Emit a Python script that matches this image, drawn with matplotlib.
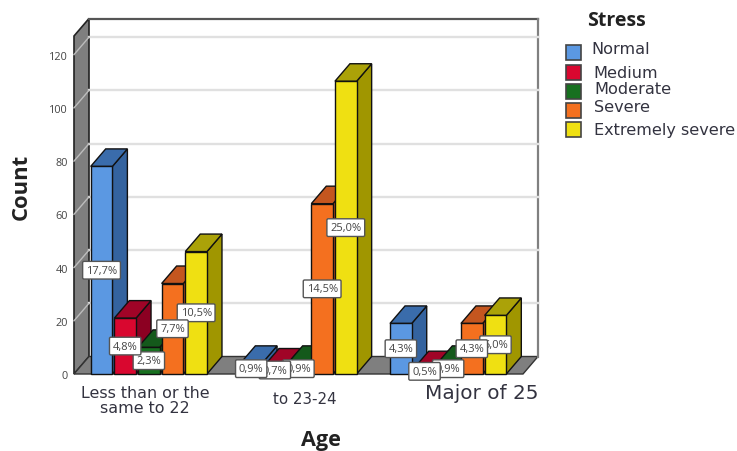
import matplotlib
matplotlib.use("Agg")
import matplotlib.pyplot as plt
from matplotlib.patches import Polygon, Rectangle

# Counts by age group and stress level
age_groups = ["Less than or the\nsame to 22", "to 23-24", "Major of 25"]
stress_levels = ["Normal", "Medium", "Moderate", "Severe", "Extremely severe"]
normal = [78, 4, 19]
medium = [21, 3, 2]
moderate = [10, 4, 4]
severe = [34, 64, 19]
extreme = [46, 110, 22]
series = [normal, medium, moderate, severe, extreme]

pct_normal = ["17,7%", "0,9%", "4,3%"]
pct_medium = ["4,8%", "0,7%", "0,5%"]
pct_moderate = ["2,3%", "0,9%", "0,9%"]
pct_severe = ["7,7%", "14,5%", "4,3%"]
pct_extreme = ["10,5%", "25,0%", "5,0%"]
percents = [pct_normal, pct_medium, pct_moderate, pct_severe, pct_extreme]

yticks = [0, 20, 40, 60, 80, 100, 120]

front = ["#5b98e2", "#d9072f", "#17701f", "#f4701f", "#efe012"]
side = ["#34639f", "#8c0022", "#0f4f16", "#b8501c", "#a09600"]
top = ["#3a6cab", "#a00427", "#14591b", "#c4561f", "#aba208"]

W, H = 737, 452
fig = plt.figure(figsize=(W / 100, H / 100), dpi=100, facecolor="white")
ax = fig.add_axes([74 / W, (H - 375) / H, 449 / W, 338 / H])
ax.set_xlim(-0.5, 2.5)
ax.set_ylim(0, 127)
ax.patch.set_visible(False)
for s in ax.spines.values():
    s.set_visible(False)

# Depth of the 3-D box expressed in data units
DX = 15 * 3 / 449
DY = 17.5 * 127 / 338
x0, x1 = -0.5, 2.5
ymax = 127

# Walls and floor
ax.add_patch(Polygon([(x0, 0), (x0 + DX, DY), (x0 + DX, ymax + DY), (x0, ymax)],
                     fc="#7f7f7f", ec="#222222", lw=1.2, clip_on=False, zorder=1))
ax.add_patch(Polygon([(x0, 0), (x1, 0), (x1 + DX, DY), (x0 + DX, DY)],
                     fc="#7f7f7f", ec="#333333", lw=1.0, clip_on=False, zorder=1))
ax.plot([x0 + DX, x1 + DX], [ymax + DY] * 2, color="#555555", lw=1.6, clip_on=False, zorder=1)
ax.plot([x1 + DX, x1 + DX], [DY, ymax + DY], color="#808080", lw=1.6, clip_on=False, zorder=1)

# Gridlines along the back wall and across the side wall
for t in yticks[1:]:
    ax.plot([x0 + DX, x1 + DX], [t + DY, t + DY], color="#e0e0e0", lw=1.7, clip_on=False, zorder=1.5)
    ax.plot([x0, x0 + DX], [t, t + DY], color="#bdbdbd", lw=1.0, clip_on=False, zorder=1.5)

# Bars
step = 0.158
width = 0.145
z = 2
for g in range(len(age_groups)):
    for i, vals in enumerate(series):
        v = vals[g]
        xl = g + (i - 2) * step - width / 2
        xr = xl + width
        ax.add_patch(Polygon([(xr, 0), (xr + DX, DY), (xr + DX, v + DY), (xr, v)],
                             fc=side[i], ec="#111111", lw=1.0, zorder=z, clip_on=False))
        ax.add_patch(Polygon([(xl, v), (xr, v), (xr + DX, v + DY), (xl + DX, v + DY)],
                             fc=top[i], ec="#111111", lw=1.0, zorder=z, clip_on=False))
        ax.add_patch(Rectangle((xl, 0), width, v, fc=front[i], ec="#111111", lw=1.0,
                               zorder=z + 0.1, clip_on=False))
        z += 0.2

# Value labels: earlier bars sit on top of later ones
for g in range(len(age_groups)):
    for i, vals in enumerate(series):
        xc = g + (i - 2) * step
        ax.text(xc, vals[g] / 2, percents[i][g], ha="center", va="center",
                fontsize=8.0, color="#444444", family="Open Sans", clip_on=False,
                zorder=30 - g - i * 0.1,
                bbox=dict(boxstyle="round,pad=0.3,rounding_size=0.12", fc="white",
                          ec="#555555", lw=1.0))

# Value axis
ax.set_yticks(yticks)
ax.set_yticklabels([str(t) for t in yticks], fontsize=7.8, color="#444444", family="Open Sans")
ax.tick_params(axis="y", length=0, pad=4.5)
ax.set_xticks([])


def px_text(x, y, s, **kw):
    fig.text(x / W, 1 - y / H, s, ha=kw.pop("ha", "center"), va="center", **kw)


# Category labels
px_text(145, 401, age_groups[0], fontsize=11.4, color="#333340", family="DejaVu Sans",
        linespacing=0.98)
px_text(305, 400, age_groups[1], fontsize=10.8, color="#333340", family="DejaVu Sans")
px_text(482, 394, age_groups[2], fontsize=14.4, color="#333340", family="DejaVu Sans")

# Axis titles
px_text(21, 187, "Count", fontsize=15.8, fontweight="bold", color="#222222",
        family="Open Sans", rotation=90)
px_text(321, 441, "Age", fontsize=15.6, fontweight="bold", color="#222222", family="Open Sans")

# Legend
px_text(587, 21, "Stress", ha="left", fontsize=14, fontweight="bold", color="#222222",
        family="Open Sans")
swatch_y = [53, 73, 92, 111, 130]
text_x = [591, 593, 594, 594, 594]
text_y = [50, 73, 90, 108, 130]
for i, name in enumerate(stress_levels):
    fig.add_artist(Rectangle((566 / W, 1 - (swatch_y[i] + 7.5) / H), 15 / W, 15 / H,
                             transform=fig.transFigure, fc=front[i], ec="#444444", lw=1.2))
    px_text(text_x[i], text_y[i], name, ha="left", fontsize=11.6, color="#333340",
            family="DejaVu Sans")

fig.savefig("out.png", dpi=100)
